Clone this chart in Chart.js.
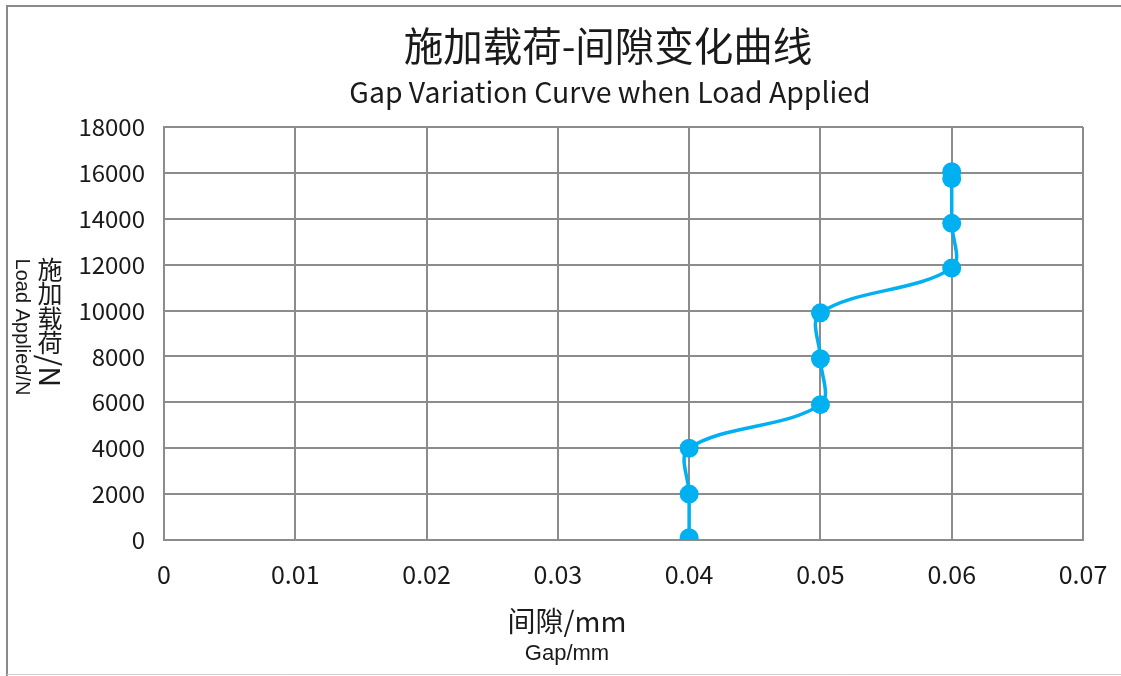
<!DOCTYPE html>
<html>
<head>
<meta charset="utf-8">
<script src="https://cdn.jsdelivr.net/npm/chart.js@4"></script>
<style>
  html, body { margin: 0; padding: 0; background: #fff; }
  #wrap { position: absolute; left: 0; top: 0; width: 1121px; height: 676px; }
</style>
</head>
<body>
<div id="wrap"><canvas id="gapChart"></canvas></div>
<script>
// data
const gapValues = [0.04, 0.04, 0.04, 0.05, 0.05, 0.05, 0.06, 0.06, 0.06, 0.06];
const loadValues = [100, 2000, 4000, 5900, 7900, 9900, 11850, 13800, 15750, 16050];
const xTicks = [0, 0.01, 0.02, 0.03, 0.04, 0.05, 0.06, 0.07];
const yTicks = [0, 2000, 4000, 6000, 8000, 10000, 12000, 14000, 16000, 18000];

const titleCn = '施加载荷-间隙变化曲线';
const titleEn = 'Gap Variation Curve when Load Applied';
const xTitleCn = '间隙/mm';
const xTitleEn = 'Gap/mm';
const yTitleCn = '施加载荷';
const yTitleUnit = '/N';
const yTitleEn = 'Load Applied/N';

const cjk = '"Noto Sans CJK SC", "Noto Sans", sans-serif';
const gridColor = '#8c8c8c';
const lineColor = '#00b0f0';

// titles, axis titles and the outer frame
const textPlugin = {
    id: 'textPlugin',
    beforeDraw(chart) {
        const c = chart.ctx;
        c.save();
        c.fillStyle = '#fff';
        c.fillRect(0, 0, chart.width, chart.height);
        c.strokeStyle = '#8a8a8a';
        c.lineWidth = 2;
        c.beginPath();
        c.moveTo(7, 676);
        c.lineTo(7, 6);
        c.lineTo(1121, 6);
        c.stroke();
        c.strokeStyle = '#d0d0d0';
        c.lineWidth = 1;
        c.beginPath();
        c.moveTo(7, 674.5);
        c.lineTo(1121, 674.5);
        c.stroke();
        c.restore();
    },
    afterDraw(chart) {
        const c = chart.ctx;
        c.save();
        c.fillStyle = '#1a1a1a';
        c.textAlign = 'center';
        c.textBaseline = 'middle';
        c.font = '39.5px ' + cjk;
        c.fillText(titleCn, 608, 46);
        c.font = '28.4px ' + cjk;
        c.fillText(titleEn, 610, 92);

        c.font = '28px ' + cjk;
        c.fillText(xTitleCn, 567, 621);
        c.font = '22px "Liberation Sans", Arial, sans-serif';
        c.fillText(xTitleEn, 567, 654);

        // upright CJK characters stacked, then the unit turned
        c.font = '25px ' + cjk;
        let y = 269;
        for (const ch of yTitleCn) {
            c.fillText(ch, 50, y);
            y += 24.5;
        }
        c.save();
        c.font = '29px ' + cjk;
        c.translate(50, y + 4);
        c.rotate(Math.PI / 2);
        c.fillText(yTitleUnit, 0, 0);
        c.restore();

        c.translate(22, 327);
        c.rotate(Math.PI / 2);
        c.font = '20px "Liberation Sans", Arial, sans-serif';
        c.fillText(yTitleEn, 0, 0);
        c.restore();
    }
};

new Chart(document.getElementById('gapChart').getContext('2d'), {
    type: 'scatter',
    data: {
        datasets: [{
            label: 'Gap',
            data: gapValues.map((x, i) => ({ x: x, y: loadValues[i] })),
            showLine: true,
            tension: 0.35,
            borderColor: lineColor,
            backgroundColor: lineColor,
            borderWidth: 3.5,
            pointRadius: 9.5,
            pointHoverRadius: 9.5,
            pointBorderWidth: 0
        }]
    },
    options: {
        responsive: true,
        maintainAspectRatio: false,
        animation: false,
        layout: {
            autoPadding: false,
            padding: { top: 127, left: 0, right: 38, bottom: 86 }
        },
        scales: {
            x: {
                type: 'linear',
                min: 0,
                max: 0.07,
                afterBuildTicks: function(scale) {
                    scale.ticks = xTicks.map(v => ({ value: v }));
                },
                afterFit: function(scale) {
                    scale.height = 50;
                    scale.paddingLeft = 0;
                    scale.paddingRight = 0;
                },
                grid: { color: gridColor, lineWidth: 2, drawTicks: false },
                border: { color: gridColor, width: 2 },
                ticks: {
                    padding: 19,
                    color: '#1a1a1a',
                    font: { family: cjk, size: 25 },
                    callback: function(value) {
                        return value === 0 ? '0' : value.toFixed(2);
                    }
                }
            },
            y: {
                type: 'linear',
                min: 0,
                max: 18000,
                afterBuildTicks: function(scale) {
                    scale.ticks = yTicks.map(v => ({ value: v }));
                },
                afterFit: function(scale) {
                    scale.width = 164;
                    scale.paddingTop = 0;
                    scale.paddingBottom = 0;
                },
                grid: { color: gridColor, lineWidth: 2, drawTicks: false },
                border: { color: gridColor, width: 2 },
                ticks: {
                    padding: 19,
                    color: '#1a1a1a',
                    font: { family: cjk, size: 24 },
                    callback: function(value) {
                        return String(value);
                    }
                }
            }
        },
        plugins: {
            legend: { display: false },
            tooltip: { enabled: false },
            title: { display: false }
        }
    },
    plugins: [textPlugin]
});
</script>
</body>
</html>
